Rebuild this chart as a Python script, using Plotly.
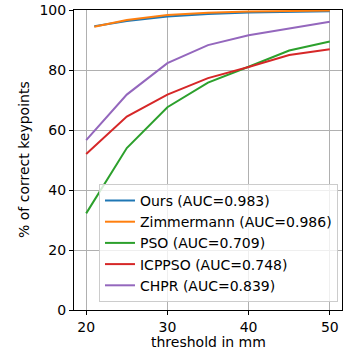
import plotly.graph_objects as go

# ---------------------------------- data ----------------------------------
thresholds = [20, 25, 30, 35, 40, 45, 50]
thresholds_z = [21, 25, 30, 35, 40, 45, 50]

ours = [94.6, 96.3, 97.8, 98.7, 99.2, 99.5, 99.6]
zimmermann = [94.4, 96.7, 98.3, 99.1, 99.5, 99.7, 99.8]
pso = [32.2, 54.0, 67.6, 75.8, 81.1, 86.5, 89.5]
icppso = [52.0, 64.5, 71.8, 77.3, 81.0, 85.0, 86.9]
chpr = [56.6, 71.8, 82.3, 88.3, 91.6, 93.9, 96.1]

names = ['Ours (AUC=0.983)', 'Zimmermann (AUC=0.986)', 'PSO (AUC=0.709)',
         'ICPPSO (AUC=0.748)', 'CHPR (AUC=0.839)']
colors = ['#1f77b4', '#ff7f0e', '#2ca02c', '#d62728', '#9467bd']

xlabel = 'threshold in mm'
ylabel = '% of correct keypoints'

# ---------------------------------- plot ----------------------------------
fig = go.Figure()
series = [(thresholds_z, ours), (thresholds_z, zimmermann), (thresholds, pso),
          (thresholds, icppso), (thresholds, chpr)]
for (xs, ys), name, col in zip(series, names, colors):
    fig.add_trace(go.Scatter(x=xs, y=ys, name=name, mode='lines',
                             line=dict(color=col, width=2)))

axis_common = dict(showline=True, linecolor='black', linewidth=1, mirror=True,
                   showgrid=True, gridcolor='#b0b0b0', gridwidth=1,
                   ticks='outside', ticklen=4, tickcolor='black', automargin=False,
                   zeroline=False, tickfont=dict(size=14, color='black'))

fig.update_layout(
    width=350, height=350,
    margin=dict(l=74, r=8, t=10, b=40),
    paper_bgcolor='white', plot_bgcolor='white',
    font=dict(family='DejaVu Sans', size=14, color='black'),
    xaxis=dict(range=[18.5, 51.5], tickvals=[20, 30, 40, 50], **axis_common),
    yaxis=dict(range=[0, 100], tickvals=[0, 20, 40, 60, 80, 100], **axis_common),
    legend=dict(x=0.985, y=0.027, xanchor='right', yanchor='bottom',
                bgcolor='rgba(255,255,255,0.8)', bordercolor='#cccccc', borderwidth=1,
                font=dict(size=14), tracegroupgap=0),
    showlegend=True,
)

# axis titles placed like matplotlib's
fig.add_annotation(text=xlabel, xref='paper', yref='paper', x=0.5, y=0,
                   xanchor='center', yanchor='middle',
                   yshift=-32, showarrow=False, font=dict(size=14))
fig.add_annotation(text=ylabel, xref='paper', yref='paper', x=0, y=0.5,
                   xanchor='center', yanchor='middle',
                   xshift=-50, textangle=-90, showarrow=False, font=dict(size=14))

fig.write_html("out.html", config={'displayModeBar': False},
               post_script="document.body.style.margin='0';document.body.style.overflow='hidden';")
